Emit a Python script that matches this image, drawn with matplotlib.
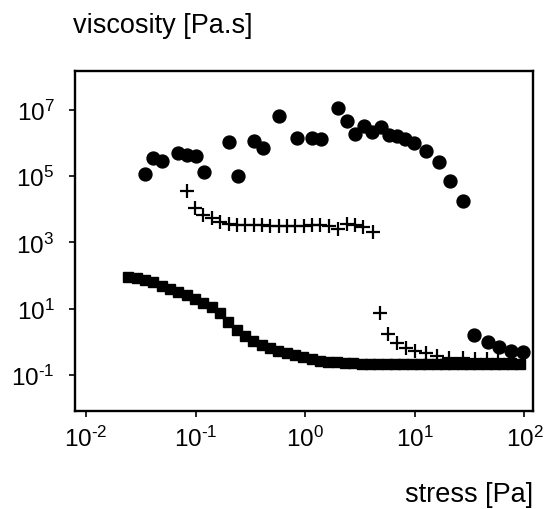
import numpy as np
import matplotlib.pyplot as plt
from matplotlib.ticker import FixedLocator, FixedFormatter, NullLocator

plt.rcParams['font.family'] = ['Liberation Sans', 'DejaVu Sans']
plt.rcParams['mathtext.fontset'] = 'custom'
plt.rcParams['mathtext.rm'] = 'Liberation Sans'

# 圆点: 高粘度分支 + 高应力尾部
circle_stress = [0.0348, 0.0411, 0.0493, 0.0695, 0.0839, 0.100, 0.1186, 0.203, 0.242,
                 0.344, 0.409, 0.581, 0.836, 1.16, 1.39, 2.0, 2.39, 2.87, 3.44, 4.06,
                 4.89, 5.82, 6.92, 8.19, 9.84, 12.65, 16.5, 21.1, 27.4,
                 34.9, 46.9, 59.0, 75.5, 97.7]
circle_visc = [1.15e5, 3.42e5, 2.78e5, 4.94e5, 4.3e5, 3.94e5, 1.35e5, 1.08e6, 1.02e5,
               1.11e6, 7.0e5, 6.6e6, 1.37e6, 1.37e6, 1.31e6, 1.1e7, 4.47e6, 1.85e6, 3.29e6, 2.08e6,
               2.94e6, 1.73e6, 1.64e6, 1.31e6, 9.9e5, 5.8e5, 2.6e5, 7.2e4, 1.8e4,
               1.64, 1.01, 0.71, 0.54, 0.48]

# 十字: 两段
plus_stress = [0.0839, 0.0989, 0.1175, 0.140, 0.167, 0.202, 0.240, 0.285, 0.340, 0.405,
               0.482, 0.575, 0.685, 0.815, 0.970, 1.155, 1.375, 1.64, 2.0, 2.39,
               2.85, 3.39, 4.13,
               4.81, 5.73, 6.92, 8.3, 10.0, 12.65, 16.0, 20.6, 27.4, 35.4, 45.3, 57.8, 74.0]
plus_visc = [3.6e4, 1.06e4, 6.7e3, 5.3e3, 4.2e3, 3.57e3, 3.4e3, 3.4e3, 3.3e3, 3.3e3,
             3.2e3, 3.2e3, 3.2e3, 3.2e3, 3.2e3, 3.3e3, 3.3e3, 3.2e3, 2.5e3, 3.57e3,
             3.4e3, 2.96e3, 2.0e3,
             7.4, 1.72, 0.90, 0.65, 0.52, 0.45, 0.38, 0.33, 0.32, 0.31, 0.30, 0.30, 0.30]

# 方块
square_stress = [0.0243, 0.0290, 0.0345, 0.0411, 0.0491, 0.0584, 0.0695, 0.0830, 0.0989, 0.1175,
                 0.140, 0.167, 0.199, 0.237, 0.282, 0.336, 0.401, 0.477, 0.569, 0.678,
                 0.807, 0.962, 1.146, 1.365, 1.626, 1.937, 2.31, 2.75, 3.27, 3.90,
                 4.65, 5.54, 6.60, 7.86, 9.37, 11.15, 13.3, 15.8, 18.9, 22.4,
                 26.8, 31.9, 37.9, 45.3, 53.9, 64.3, 76.6, 91.2]
square_visc = [92, 84, 73, 62, 47, 39, 31, 25, 19, 14.5,
               11.5, 7.2, 4.0, 2.27, 1.47, 1.05, 0.80, 0.64, 0.53, 0.45,
               0.40, 0.34, 0.30, 0.27, 0.25, 0.24, 0.23, 0.225, 0.22, 0.22,
               0.22, 0.22, 0.22, 0.22, 0.22, 0.22, 0.22, 0.22, 0.22, 0.22,
               0.22, 0.22, 0.22, 0.22, 0.22, 0.22, 0.22, 0.22]

x_ticks = [1e-2, 1e-1, 1e0, 1e1, 1e2]
x_labels = [r'$\mathregular{10^{\text{-}2}}$', r'$\mathregular{10^{\text{-}1}}$', r'$\mathregular{10^{0}}$',
            r'$\mathregular{10^{1}}$', r'$\mathregular{10^{2}}$']
y_ticks = [1e-1, 1e1, 1e3, 1e5, 1e7]
y_labels = [r'$\mathregular{10^{\text{-}1}}$', r'$\mathregular{10^{1}}$', r'$\mathregular{10^{3}}$',
            r'$\mathregular{10^{5}}$', r'$\mathregular{10^{7}}$']

fig = plt.figure(figsize=(5.45, 5.1), dpi=100)
ax = fig.add_axes([0.1367, 0.1927, 0.978 - 0.1367, 0.8594 - 0.1927])

ax.plot(square_stress, square_visc, 's', color='black', markersize=7.3, linestyle='none')
ax.plot(plus_stress, plus_visc, '+', color='black', markersize=9.5, markeredgewidth=1.6,
        linestyle='none')
ax.plot(circle_stress, circle_visc, 'o', color='black', markersize=9.3, linestyle='none')

ax.set_xscale('log')
ax.set_yscale('log')
ax.set_xlim(10 ** -2.105, 10 ** 2.078)
ax.set_ylim(10 ** -2.077, 10 ** 8.176)

ax.xaxis.set_major_locator(FixedLocator(x_ticks))
ax.xaxis.set_major_formatter(FixedFormatter(x_labels))
ax.yaxis.set_major_locator(FixedLocator(y_ticks))
ax.yaxis.set_major_formatter(FixedFormatter(y_labels))
ax.xaxis.set_minor_locator(NullLocator())
ax.yaxis.set_minor_locator(NullLocator())

for sp in ax.spines.values():
    sp.set_linewidth(1.7)
ax.tick_params(axis='both', direction='out', length=4.5, width=1.2, labelsize=17.5, colors='black')
ax.tick_params(axis='x', pad=6)
ax.tick_params(axis='y', pad=10)

fig.text(73 / 545, 1 - 33 / 510, 'viscosity [Pa.s]', fontsize=19.5, ha='left', va='baseline')
fig.text(533 / 545, 1 - 501.7 / 510, 'stress [Pa]', fontsize=19.5, ha='right', va='baseline')

fig.savefig('out.png', dpi=100)
